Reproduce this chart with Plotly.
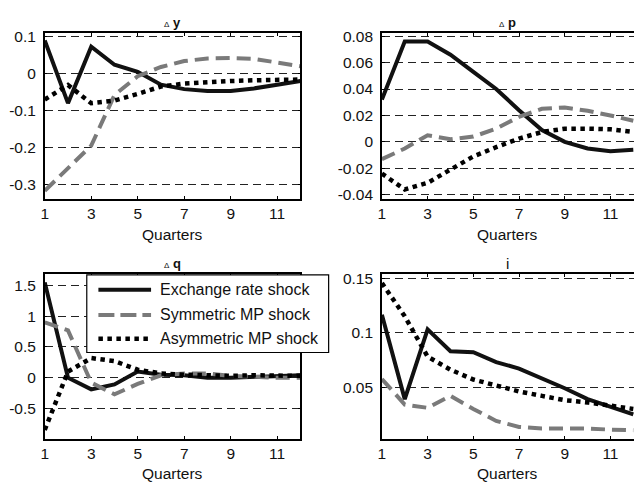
import plotly.graph_objects as go

W, H = 634, 489

quarters = list(range(1, 13))
x_ticks = [1, 3, 5, 7, 9, 11]

# Impulse responses, one list per shock and variable
dy_exchange = [0.09, -0.08, 0.073, 0.024, 0.005, -0.03, -0.042, -0.047, -0.047, -0.04, -0.03, -0.02]
dy_symmetric = [-0.317, -0.257, -0.195, -0.058, -0.007, 0.018, 0.034, 0.041, 0.042, 0.04, 0.031, 0.02]
dy_asymmetric = [-0.07, -0.031, -0.08, -0.073, -0.055, -0.035, -0.027, -0.022, -0.02, -0.018, -0.016, -0.016]

dp_exchange = [0.032, 0.076, 0.076, 0.066, 0.053, 0.04, 0.024, 0.009, 0.0, -0.005, -0.007, -0.006]
dp_symmetric = [-0.013, -0.005, 0.005, 0.002, 0.004, 0.01, 0.019, 0.025, 0.026, 0.0235, 0.02, 0.016]
dp_asymmetric = [-0.024, -0.036, -0.031, -0.021, -0.011, -0.004, 0.0025, 0.0075, 0.01, 0.01, 0.0095, 0.0075]

dq_exchange = [1.55, 0.0, -0.19, -0.11, 0.1, 0.05, 0.04, 0.0, 0.0, 0.015, 0.04, 0.04]
dq_symmetric = [0.9, 0.77, -0.08, -0.27, -0.1, 0.04, 0.07, 0.07, 0.03, 0.01, 0.0, 0.0]
dq_asymmetric = [-0.85, 0.1, 0.32, 0.27, 0.13, 0.07, 0.05, 0.04, 0.03, 0.04, 0.03, 0.03]

i_exchange = [0.1165, 0.039, 0.103, 0.083, 0.082, 0.073, 0.067, 0.058, 0.049, 0.039, 0.032, 0.025]
i_symmetric = [0.0575, 0.034, 0.031, 0.042, 0.03, 0.019, 0.0135, 0.012, 0.012, 0.012, 0.011, 0.0105]
i_asymmetric = [0.1455, 0.115, 0.078, 0.066, 0.057, 0.0515, 0.046, 0.042, 0.038, 0.036, 0.033, 0.030]

dy_ticks = [-0.3, -0.2, -0.1, 0, 0.1]
dy_labels = ["-0.3", "-0.2", "-0.1", "0", "0.1"]
dp_ticks = [-0.04, -0.02, 0, 0.02, 0.04, 0.06, 0.08]
dp_labels = ["-0.04", "-0.02", "0", "0.02", "0.04", "0.06", "0.08"]
dq_ticks = [-0.5, 0, 0.5, 1, 1.5]
dq_labels = ["-0.5", "0", "0.5", "1", "1.5"]
i_ticks = [0.05, 0.1, 0.15]
i_labels = ["0.05", "0.1", "0.15"]

series_names = ["Exchange rate shock", "Symmetric MP shock", "Asymmetric MP shock"]
series_styles = [
    dict(color="#111111", width=4, dash="solid"),
    dict(color="#7a7a7a", width=4, dash="14px,7px"),
    dict(color="#000000", width=4.5, dash="4.5px,4.5px"),
]

FONT = "Liberation Sans, Arial, sans-serif"


def fx(px):
    return px / W


def fy(py):
    return 1 - py / H


# Panel geometry (pixels): left, right, top, bottom
panels = [
    dict(title="<span style='font-size:8px'>Δ</span> <b>y</b>", box=(41, 298.3, 28.5, 197.5),
         yr=[-0.339, 0.110], ticks=dy_ticks, labels=dy_labels,
         data=[dy_exchange, dy_symmetric, dy_asymmetric], right=False),
    dict(title="<span style='font-size:8px'>Δ</span> <b>p</b>", box=(380.3, 634, 28.5, 197.5),
         yr=[-0.0431, 0.0824], ticks=dp_ticks, labels=dp_labels,
         data=[dp_exchange, dp_symmetric, dp_asymmetric], right=True),
    dict(title="<span style='font-size:8px'>Δ</span> <b>q</b>", box=(41, 298.3, 274.5, 441.7),
         yr=[-0.99, 1.68], ticks=dq_ticks, labels=dq_labels,
         data=[dq_exchange, dq_symmetric, dq_asymmetric], right=False),
    dict(title="i", box=(380.3, 634, 274.5, 441.7),
         yr=[0.0028, 0.1534], ticks=i_ticks, labels=i_labels,
         data=[i_exchange, i_symmetric, i_asymmetric], right=True),
]

fig = go.Figure()
annotations = []
shapes = []

for k, p in enumerate(panels, start=1):
    xa = "x" if k == 1 else f"x{k}"
    ya = "y" if k == 1 else f"y{k}"
    for vals, name, st in zip(p["data"], series_names, series_styles):
        fig.add_trace(go.Scatter(
            x=quarters, y=vals, mode="lines", name=name, showlegend=False,
            line=dict(color=st["color"], width=st["width"], dash=st["dash"]),
            xaxis=xa, yaxis=ya, hoverinfo="skip",
        ))
    x0, x1, t, b = p["box"]
    # right-hand panels run past the page edge, so 12 sits just outside
    xr = [1, 12] if not p["right"] else [1, 1 + (x1 - x0) / 23.0]
    xkey = "xaxis" if k == 1 else f"xaxis{k}"
    ykey = "yaxis" if k == 1 else f"yaxis{k}"
    fig.layout[xkey] = dict(
        domain=[fx(x0), fx(x1)], range=xr, anchor=ya,
        tickmode="array", tickvals=x_ticks, ticktext=[str(v) for v in x_ticks],
        ticks="inside", ticklen=3, tickcolor="#000", tickwidth=1,
        showline=True, linecolor="#000", linewidth=1.5, mirror="ticks",
        showgrid=False, zeroline=False,
        tickfont=dict(family=FONT, size=15.5, color="#111"),
    )
    fig.layout[ykey] = dict(
        domain=[fy(b), fy(t)], range=p["yr"], anchor=xa,
        tickmode="array", tickvals=p["ticks"], ticktext=p["labels"],
        ticks="inside", ticklen=3, tickcolor="#000", tickwidth=1,
        showline=True, linecolor="#000", linewidth=1.5,
        mirror=False if p["right"] else "ticks",
        showgrid=True, gridcolor="#222", gridwidth=1, griddash="8px,5px",
        zeroline=False, ticklabelstandoff=4,
        tickfont=dict(family=FONT, size=15.5, color="#111"),
    )
    cx = (x0 + x1) / 2
    annotations.append(dict(
        text=p["title"], x=fx(cx), y=fy(t - 11), xref="paper", yref="paper",
        xanchor="center", yanchor="middle", showarrow=False,
        font=dict(family=FONT, size=13 if k < 4 else 15, color="#111"),
    ))
    annotations.append(dict(
        text="Quarters", x=fx((x0 + min(x1, x0 + 11 * 23.3)) / 2), y=fy(b + 36),
        xref="paper", yref="paper", xanchor="center", yanchor="middle",
        showarrow=False, font=dict(family=FONT, size=15.5, color="#111"),
    ))

# Legend box drawn over the lower-left panel
lg_l, lg_r, lg_t, lg_b = 83.3, 326.7, 275, 354
shapes.append(dict(type="rect", xref="paper", yref="paper",
                   x0=fx(lg_l), x1=fx(lg_r), y0=fy(lg_b), y1=fy(lg_t),
                   line=dict(color="#000", width=1.2), fillcolor="white", layer="above"))
row_y = [290, 315.7, 340]
for ry, name, st in zip(row_y, series_names, series_styles):
    shapes.append(dict(type="line", xref="paper", yref="paper",
                       x0=fx(95), x1=fx(148), y0=fy(ry), y1=fy(ry),
                       line=dict(color=st["color"], width=st["width"],
                                 dash="16px,6px" if st["dash"] == "14px,7px" else st["dash"]),
                       layer="above"))
    annotations.append(dict(
        text=name, x=fx(155), y=fy(ry), xref="paper", yref="paper",
        xanchor="left", yanchor="middle", showarrow=False,
        font=dict(family=FONT, size=16, color="#111"),
    ))

fig.update_layout(
    width=W, height=H, margin=dict(l=0, r=0, t=0, b=0),
    paper_bgcolor="white", plot_bgcolor="white",
    annotations=annotations, shapes=shapes, showlegend=False,
)

fig.write_html("out.html")
